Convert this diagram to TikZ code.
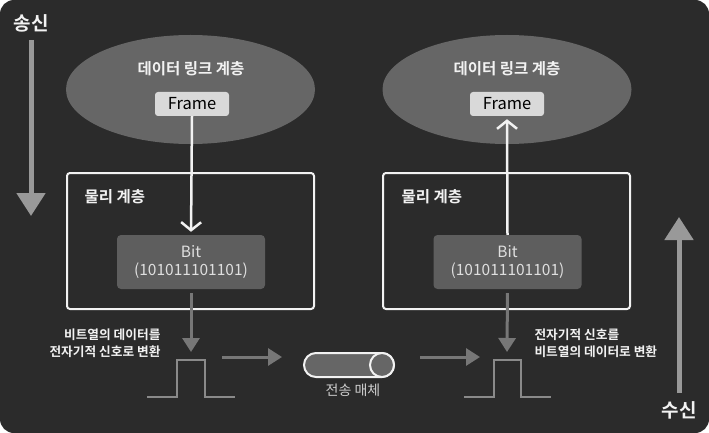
\documentclass[tikz,border=0pt]{standalone}
\usepackage{fontspec}
\setmainfont{Noto Sans CJK KR}[BoldFont={Noto Sans CJK KR Bold}]
\usetikzlibrary{arrows.meta,shapes.geometric}

\definecolor{bgdark}{HTML}{2B2B2B}
\definecolor{ellgray}{HTML}{666666}
\definecolor{framegray}{HTML}{D9D9D9}
\definecolor{bitgray}{HTML}{5E5E5E}
\definecolor{arrgray}{HTML}{777777}
\definecolor{biggray}{HTML}{999999}
\definecolor{pulsegray}{HTML}{8A8A8A}
\definecolor{softwhite}{HTML}{F2F2F2}

\tikzset{
  layer/.style = {ellipse, fill=ellgray, minimum width=249pt,
                  minimum height=109pt, inner sep=0pt},
  headtxt/.style = {text=softwhite, font=\fontsize{15.5}{17}\selectfont\bfseries},
  framebox/.style = {fill=framegray, rounded corners=3pt, minimum width=74pt,
                     minimum height=24pt, inner sep=0pt, text=black,
                     font=\fontsize{16.5}{18}\selectfont},
  physbox/.style = {draw=softwhite, line width=2pt, rounded corners=3pt,
                    minimum width=247pt, minimum height=136pt, inner sep=0pt},
  bitbox/.style = {fill=bitgray, rounded corners=4pt, minimum width=148pt,
                   minimum height=54pt, inner sep=0pt, align=center,
                   text=softwhite!92!black, font=\fontsize{15.5}{18}\selectfont},
  note/.style = {text=softwhite, font=\fontsize{12.7}{16.5}\selectfont\bfseries},
  wire/.style = {draw=softwhite, line width=2.5pt,
                 -{Straight Barb[length=8pt,width=20pt,line width=2.5pt]}},
  sig/.style = {draw=arrgray, line width=3pt,
                -{Triangle[length=14pt,width=17pt]}},
  pulse/.style = {draw=pulsegray, line width=2pt},
  bigarrow/.style = {draw=biggray, line width=5pt,
                     -{Triangle[length=23pt,width=28pt]}},
  sidetxt/.style = {text=softwhite, font=\fontsize{19}{21}\selectfont\bfseries}
}

\begin{document}
\begin{tikzpicture}[x=1pt, y=-1pt]
  \fill[bgdark, rounded corners=14pt] (0,0) rectangle (709,433);

  % sending side
  \node[sidetxt] (send) at (31,23) {송신};
  \coordinate (sendtop) at (31,40);
  \coordinate (sendend) at (31,216);
  \draw[bigarrow] (sendtop) -- (sendend);

  \node[layer] (linkL) at (190.5,89.5) {};
  \node[headtxt] (linkLtxt) at (191,69) {데이터 링크 계층};
  \node[framebox] (frameL) at (192,104) {Frame};
  \node[physbox] (physL) at (190.5,241) {};
  \node[headtxt, anchor=west] (physLtxt) at (81,197) {물리 계층};
  \node[bitbox] (bitL) at (191,262) {Bit\\(101011101101)};
  \draw[wire, shorten >=3pt] (frameL.south) -- (bitL.north);

  \coordinate (pulseLtop) at (191,352);
  \draw[sig, shorten <=4pt] (bitL.south) -- (pulseLtop);
  \draw[pulse] (147,397) -- (177,397) -- (177,360) -- (205,360)
               -- (205,397) -- (235,397);
  \node[note, anchor=east, align=right] (noteL) at (164,343)
       {비트열의 데이터를\\전자기적 신호로 변환};

  % medium
  \node[draw=softwhite, fill=ellgray, line width=2pt, rounded corners=12pt,
        minimum width=90pt, minimum height=24pt, inner sep=0pt]
       (medium) at (349,365) {};
  \draw[draw=softwhite, fill=ellgray, line width=2pt]
       ([xshift=-13pt]medium.east) circle (12pt);
  \node[text=softwhite!85!black, font=\fontsize{14}{16}\selectfont]
       (mediumtxt) at (353,390) {전송 매체};
  \coordinate (txL) at (222,357);
  \coordinate (txLend) at (282,357);
  \coordinate (rxRstart) at (420,357);
  \coordinate (rxR) at (480,357);
  \draw[sig] (txL) -- (txLend);
  \draw[sig] (rxRstart) -- (rxR);

  % receiving side
  \node[layer] (linkR) at (507,89.5) {};
  \node[headtxt] (linkRtxt) at (507,69) {데이터 링크 계층};
  \node[framebox] (frameR) at (507,104) {Frame};
  \node[physbox] (physR) at (506.5,241) {};
  \node[headtxt, anchor=west] (physRtxt) at (398,197) {물리 계층};
  \node[bitbox] (bitR) at (507.5,262) {Bit\\(101011101101)};
  \draw[wire, shorten >=3pt] (bitR.north) -- (frameR.south);

  \coordinate (pulseRtop) at (507,352);
  \draw[sig, shorten <=4pt] (bitR.south) -- (pulseRtop);
  \draw[pulse] (464,397) -- (494,397) -- (494,360) -- (521,360)
               -- (521,397) -- (551,397);
  \node[note, anchor=west, align=left] (noteR) at (531,343)
       {전자기적 신호를\\비트열의 데이터로 변환};

  \node[sidetxt] (recv) at (679,410) {수신};
  \coordinate (recvbot) at (679,393);
  \coordinate (recvend) at (679,217);
  \draw[bigarrow] (recvbot) -- (recvend);
\end{tikzpicture}
\end{document}
